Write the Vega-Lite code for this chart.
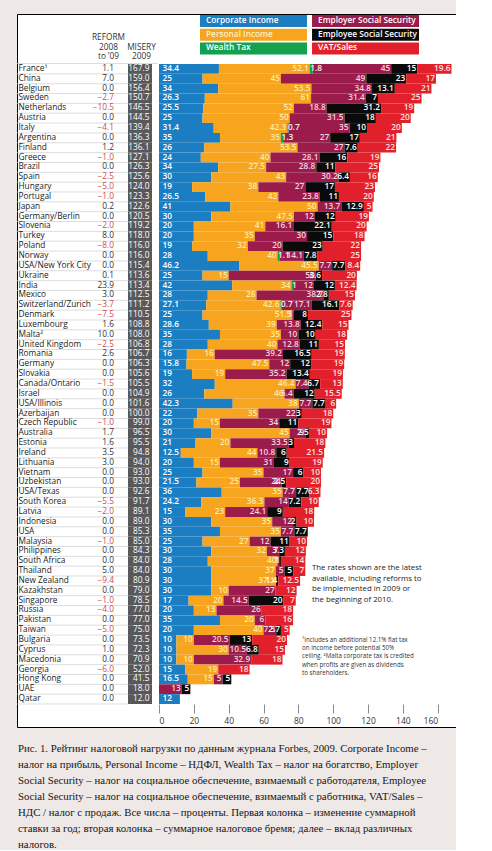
{
  "$schema": "https://vega.github.io/schema/vega-lite/v6.json",
  "width": 439,
  "height": 713,
  "padding": {"left": 16, "top": 14, "right": 0, "bottom": 0},
  "background": "#eee8e6",
  "config": {
    "font": "Open Sans",
    "view": {"fill": "white", "stroke": "#000000", "strokeWidth": 1, "strokeDash": [439, 713, 1152, 0]},
    "text": {"font": "Open Sans"}
  },
  "title": {
    "text": [
      "Рис. 1. Рейтинг налоговой нагрузки по данным журнала Forbes, 2009. Corporate Income –",
      "налог на прибыль, Personal Income – НДФЛ, Wealth Tax – налог на богатство, Employer",
      "Social Security – налог на социальное обеспечение, взимаемый с работодателя, Employee",
      "Social Security – налог на социальное обеспечение, взимаемый с работника, VAT/Sales –",
      "НДС / налог с продаж. Все числа – проценты. Первая колонка – изменение суммарной",
      "ставки за год; вторая колонка – суммарное налоговое бремя; далее – вклад различных",
      "налогов."
    ],
    "orient": "bottom",
    "anchor": "start",
    "frame": "group",
    "font": "Liberation Serif",
    "fontSize": 10.8,
    "fontWeight": "normal",
    "color": "#161616",
    "lineHeight": 16,
    "offset": 16,
    "dx": 1,
    "baseline": "top"
  },
  "datasets": {
    "countries": [
      {"country":"France¹","reform":1.1,"misery":167.9,"ci":34.4,"pi":52.1,"wt":1.8,"er":45,"ee":15,"vat":19.6},
      {"country":"China","reform":7.0,"misery":159.0,"ci":25,"pi":45,"wt":0,"er":49,"ee":23,"vat":17},
      {"country":"Belgium","reform":0,"misery":156.4,"ci":34,"pi":53.5,"wt":0,"er":34.8,"ee":13.1,"vat":21},
      {"country":"Sweden","reform":-2.7,"misery":150.7,"ci":26.3,"pi":61,"wt":0,"er":31.4,"ee":7,"vat":25},
      {"country":"Netherlands","reform":-10.5,"misery":146.5,"ci":25.5,"pi":52,"wt":0,"er":18.8,"ee":31.2,"vat":19},
      {"country":"Austria","reform":0,"misery":144.5,"ci":25,"pi":50,"wt":0,"er":31.5,"ee":18,"vat":20},
      {"country":"Italy","reform":-4.1,"misery":139.4,"ci":31.4,"pi":42.3,"wt":0.7,"er":35,"ee":10,"vat":20},
      {"country":"Argentina","reform":0,"misery":136.3,"ci":35,"pi":35,"wt":1.3,"er":27,"ee":17,"vat":21},
      {"country":"Finland","reform":1.2,"misery":136.1,"ci":26,"pi":53.5,"wt":0,"er":27,"ee":7.6,"vat":22},
      {"country":"Greece","reform":-1.0,"misery":127.1,"ci":24,"pi":40,"wt":0,"er":28.1,"ee":16,"vat":19},
      {"country":"Brazil","reform":0,"misery":126.3,"ci":34,"pi":27.5,"wt":0,"er":28.8,"ee":11,"vat":25},
      {"country":"Spain","reform":-2.5,"misery":125.6,"ci":30,"pi":43,"wt":0,"er":30.2,"ee":6.4,"vat":16},
      {"country":"Hungary","reform":-5.0,"misery":124.0,"ci":19,"pi":38,"wt":0,"er":27,"ee":17,"vat":23},
      {"country":"Portugal","reform":-1.0,"misery":123.3,"ci":26.5,"pi":42,"wt":0,"er":23.8,"ee":11,"vat":20},
      {"country":"Japan","reform":0.2,"misery":122.6,"ci":41,"pi":50,"wt":0,"er":13.7,"ee":12.9,"vat":5},
      {"country":"Germany/Berlin","reform":0,"misery":120.5,"ci":30,"pi":47.5,"wt":0,"er":12,"ee":12,"vat":19},
      {"country":"Slovenia","reform":-2.0,"misery":119.2,"ci":20,"pi":41,"wt":0,"er":16.1,"ee":22.1,"vat":20},
      {"country":"Turkey","reform":8.0,"misery":118.0,"ci":20,"pi":35,"wt":0,"er":30,"ee":15,"vat":18},
      {"country":"Poland","reform":-8.0,"misery":116.0,"ci":19,"pi":32,"wt":0,"er":20,"ee":23,"vat":22},
      {"country":"Norway","reform":0,"misery":116.0,"ci":28,"pi":40,"wt":1.1,"er":14.1,"ee":7.8,"vat":25},
      {"country":"USA/New York City","reform":0,"misery":115.4,"ci":46.2,"pi":45.5,"wt":0,"er":7.7,"ee":7.7,"vat":8.4},
      {"country":"Ukraine","reform":0.1,"misery":113.6,"ci":25,"pi":15,"wt":0,"er":50,"ee":3.6,"vat":20},
      {"country":"India","reform":23.9,"misery":113.4,"ci":42,"pi":34,"wt":1,"er":12,"ee":12,"vat":12.4},
      {"country":"Mexico","reform":3.0,"misery":112.5,"ci":28,"pi":28,"wt":0,"er":38.7,"ee":2.8,"vat":15},
      {"country":"Switzerland/Zurich","reform":-3.7,"misery":111.2,"ci":27.1,"pi":42.6,"wt":0.7,"er":17.1,"ee":16.1,"vat":7.6},
      {"country":"Denmark","reform":-7.5,"misery":110.5,"ci":25,"pi":51.5,"wt":0,"er":1,"ee":8,"vat":25},
      {"country":"Luxembourg","reform":1.6,"misery":108.8,"ci":28.6,"pi":39,"wt":0,"er":13.8,"ee":12.4,"vat":15},
      {"country":"Malta²","reform":10.0,"misery":108.0,"ci":35,"pi":35,"wt":0,"er":10,"ee":10,"vat":18},
      {"country":"United Kingdom","reform":-2.5,"misery":106.8,"ci":28,"pi":40,"wt":0,"er":12.8,"ee":11,"vat":15},
      {"country":"Romania","reform":2.6,"misery":106.7,"ci":16,"pi":16,"wt":0,"er":39.2,"ee":16.5,"vat":19},
      {"country":"Germany","reform":0,"misery":106.3,"ci":15.8,"pi":47.5,"wt":0,"er":12,"ee":12,"vat":19},
      {"country":"Slovakia","reform":0,"misery":105.6,"ci":19,"pi":19,"wt":0,"er":35.2,"ee":13.4,"vat":19},
      {"country":"Canada/Ontario","reform":-1.5,"misery":105.5,"ci":32,"pi":46.4,"wt":0,"er":7.4,"ee":6.7,"vat":13},
      {"country":"Israel","reform":0,"misery":104.9,"ci":26,"pi":46,"wt":0,"er":5.4,"ee":12,"vat":15.5},
      {"country":"USA/Illinois","reform":0,"misery":101.6,"ci":42.3,"pi":38,"wt":0,"er":7.7,"ee":7.7,"vat":6},
      {"country":"Azerbaijan","reform":0,"misery":100.0,"ci":22,"pi":35,"wt":0,"er":22,"ee":3,"vat":18},
      {"country":"Czech Republic","reform":-1.0,"misery":99.0,"ci":20,"pi":15,"wt":0,"er":34,"ee":11,"vat":19},
      {"country":"Australia","reform":1.7,"misery":96.5,"ci":30,"pi":45,"wt":0,"er":9,"ee":2.5,"vat":10},
      {"country":"Estonia","reform":1.6,"misery":95.5,"ci":21,"pi":20,"wt":0,"er":33.5,"ee":3,"vat":18},
      {"country":"Ireland","reform":3.5,"misery":94.8,"ci":12.5,"pi":44,"wt":0,"er":10.8,"ee":6,"vat":21.5},
      {"country":"Lithuania","reform":3.0,"misery":94.0,"ci":20,"pi":15,"wt":0,"er":31,"ee":9,"vat":19},
      {"country":"Vietnam","reform":0,"misery":93.0,"ci":25,"pi":35,"wt":0,"er":17,"ee":6,"vat":10},
      {"country":"Uzbekistan","reform":0,"misery":93.0,"ci":21.5,"pi":25,"wt":0,"er":24,"ee":2.5,"vat":20},
      {"country":"USA/Texas","reform":0,"misery":92.6,"ci":36,"pi":35,"wt":0,"er":7.7,"ee":7.7,"vat":6.3},
      {"country":"South Korea","reform":-5.5,"misery":91.7,"ci":24.2,"pi":36.3,"wt":0,"er":14,"ee":7.2,"vat":10},
      {"country":"Latvia","reform":-2.0,"misery":89.1,"ci":15,"pi":23,"wt":0,"er":24.1,"ee":9,"vat":18},
      {"country":"Indonesia","reform":0,"misery":89.0,"ci":30,"pi":35,"wt":0,"er":12,"ee":2,"vat":10},
      {"country":"USA","reform":0,"misery":85.3,"ci":35,"pi":35,"wt":0,"er":7.7,"ee":7.7,"vat":0},
      {"country":"Malaysia","reform":-1.0,"misery":85.0,"ci":25,"pi":27,"wt":0,"er":12,"ee":11,"vat":10},
      {"country":"Philippines","reform":0,"misery":84.3,"ci":30,"pi":32,"wt":0,"er":7,"ee":3.3,"vat":12},
      {"country":"South Africa","reform":0,"misery":84.0,"ci":28,"pi":40,"wt":0,"er":1,"ee":1,"vat":14},
      {"country":"Thailand","reform":5.0,"misery":84.0,"ci":30,"pi":37,"wt":0,"er":5,"ee":5,"vat":7},
      {"country":"New Zealand","reform":-9.4,"misery":80.9,"ci":30,"pi":37.1,"wt":0,"er":0,"ee":1.4,"vat":12.5},
      {"country":"Kazakhstan","reform":0,"misery":79.0,"ci":30,"pi":10,"wt":0,"er":27,"ee":0,"vat":12},
      {"country":"Singapore","reform":-1.0,"misery":78.5,"ci":17,"pi":20,"wt":0,"er":14.5,"ee":20,"vat":7},
      {"country":"Russia","reform":-4.0,"misery":77.0,"ci":20,"pi":13,"wt":0,"er":26,"ee":0,"vat":18},
      {"country":"Pakistan","reform":0,"misery":77.0,"ci":35,"pi":20,"wt":0,"er":6,"ee":0,"vat":16},
      {"country":"Taiwan","reform":-5.0,"misery":75.0,"ci":20,"pi":40,"wt":0,"er":7.3,"ee":2.7,"vat":5},
      {"country":"Bulgaria","reform":0,"misery":73.5,"ci":10,"pi":10,"wt":0,"er":20.5,"ee":13,"vat":20},
      {"country":"Cyprus","reform":1.0,"misery":72.3,"ci":10,"pi":30,"wt":0,"er":10.5,"ee":6.8,"vat":15},
      {"country":"Macedonia","reform":0,"misery":70.9,"ci":10,"pi":10,"wt":0,"er":32.9,"ee":0,"vat":18},
      {"country":"Georgia","reform":-6.0,"misery":52.0,"ci":15,"pi":19,"wt":0,"er":0,"ee":0,"vat":18},
      {"country":"Hong Kong","reform":0,"misery":41.5,"ci":16.5,"pi":15,"wt":0,"er":5,"ee":5,"vat":0},
      {"country":"UAE","reform":0,"misery":18.0,"ci":0,"pi":0,"wt":0,"er":13,"ee":5,"vat":0},
      {"country":"Qatar","reform":0,"misery":12.0,"ci":12,"pi":0,"wt":0,"er":0,"ee":0,"vat":0}
    ],
    "legend": [
      {"key":"ci","label":"Corporate Income","col":1,"row":1},
      {"key":"pi","label":"Personal Income","col":1,"row":2},
      {"key":"wt","label":"Wealth Tax","col":1,"row":3},
      {"key":"er","label":"Employer Social Security","col":2,"row":1},
      {"key":"ee","label":"Employee Social Security","col":2,"row":2},
      {"key":"vat","label":"VAT/Sales","col":2,"row":3}
    ]
  },
  "resolve": {"scale": {"x": "independent", "y": "independent"}},
  "layer": [
    {
      "data": {"name": "countries"},
      "encoding": {
        "y": {
          "field": "country", "type": "nominal", "sort": null, "axis": null,
          "scale": {
            "domain": ["France¹","China","Belgium","Sweden","Netherlands","Austria","Italy","Argentina","Finland","Greece","Brazil","Spain","Hungary","Portugal","Japan","Germany/Berlin","Slovenia","Turkey","Poland","Norway","USA/New York City","Ukraine","India","Mexico","Switzerland/Zurich","Denmark","Luxembourg","Malta²","United Kingdom","Romania","Germany","Slovakia","Canada/Ontario","Israel","USA/Illinois","Azerbaijan","Czech Republic","Australia","Estonia","Ireland","Lithuania","Vietnam","Uzbekistan","USA/Texas","South Korea","Latvia","Indonesia","USA","Malaysia","Philippines","South Africa","Thailand","New Zealand","Kazakhstan","Singapore","Russia","Pakistan","Taiwan","Bulgaria","Cyprus","Macedonia","Georgia","Hong Kong","UAE","Qatar"],
            "range": [50, 690], "paddingInner": 0, "paddingOuter": 0
          }
        }
      },
      "layer": [
        {
          "mark": {"type": "rule", "color": "#cfcfcf", "strokeWidth": 0.7, "yOffset": 4.92},
          "encoding": {"x": {"value": 0}, "x2": {"value": 111}}
        },
        {
          "transform": [{"filter": "datum.country === 'France¹'"}],
          "mark": {"type": "rule", "color": "#cfcfcf", "strokeWidth": 0.7, "yOffset": -5.4},
          "encoding": {"x": {"value": 0}, "x2": {"value": 141}}
        },
        {
          "mark": {"type": "text", "align": "left", "baseline": "middle", "fontSize": 8.3, "color": "#222222"},
          "encoding": {"x": {"value": 1.5}, "text": {"field": "country", "type": "nominal"}}
        },
        {
          "mark": {"type": "text", "align": "right", "baseline": "middle", "fontSize": 8.3},
          "encoding": {
            "x": {"value": 97},
            "text": {"field": "reform", "type": "quantitative", "format": ".1f"},
            "color": {"condition": {"test": "datum.reform < 0", "value": "#c8504f"}, "value": "#333333"}
          }
        },
        {
          "mark": {"type": "rect", "color": "#58585a"},
          "encoding": {"x": {"value": 111}, "x2": {"value": 135}}
        },
        {
          "mark": {"type": "text", "align": "right", "baseline": "middle", "fontSize": 8.3, "color": "#ffffff"},
          "encoding": {"x": {"value": 132.5}, "text": {"field": "misery", "type": "quantitative", "format": ".1f"}}
        },
        {
          "transform": [
            {"fold": ["ci", "pi", "wt", "er", "ee", "vat"], "as": ["key", "value"]},
            {"window": [{"op": "row_number", "as": "rank"}], "groupby": ["country"]},
            {"stack": "value", "groupby": ["country"], "sort": [{"field": "rank", "order": "ascending"}], "as": ["x0", "x1"]},
            {"filter": "datum.value > 0"}
          ],
          "layer": [
            {
              "mark": {"type": "bar"},
              "encoding": {
                "x": {
                  "field": "x0", "type": "quantitative",
                  "scale": {"domain": [0, 160], "range": [142, 420.7], "nice": false, "zero": false},
                  "axis": {"values": [0, 20, 40, 60, 80, 100, 120, 140, 160], "orient": "bottom", "offset": -23, "domain": false, "grid": false, "ticks": true, "tickColor": "#8a8a8a", "tickSize": 9, "tickWidth": 1, "labelFontSize": 8.5, "labelColor": "#333333", "labelPadding": 3, "labelFont": "Open Sans", "title": null}
                },
                "x2": {"field": "x1"},
                "color": {
                  "field": "key", "type": "nominal", "legend": null,
                  "scale": {"domain": ["ci", "pi", "wt", "er", "ee", "vat"], "range": ["#1b7dc2", "#f7a51f", "#13a04f", "#9b1c4a", "#0a0a0a", "#e2202b"]}
                }
              }
            },
            {
              "transform": [{"filter": "datum.key === 'ci'"}],
              "mark": {"type": "text", "align": "left", "baseline": "middle", "dx": 3.5, "fontSize": 8.3, "fontWeight": 600, "color": "#ffffff"},
              "encoding": {
                "x": {"field": "x0", "type": "quantitative", "title": null, "scale": {"domain": [0, 160], "range": [142, 420.7], "nice": false, "zero": false}},
                "text": {"field": "value", "type": "nominal"}
              }
            },
            {
              "transform": [{"filter": "datum.key === 'wt'"}],
              "mark": {"type": "text", "align": "left", "baseline": "middle", "dx": 0.5, "fontSize": 8.3, "fontWeight": 600, "color": "#eef6ee"},
              "encoding": {
                "x": {"field": "x0", "type": "quantitative", "title": null, "scale": {"domain": [0, 160], "range": [142, 420.7], "nice": false, "zero": false}},
                "text": {"field": "value", "type": "nominal"}
              }
            },
            {
              "transform": [{"filter": "datum.key !== 'ci' && datum.key !== 'wt'"}],
              "mark": {"type": "text", "align": "right", "baseline": "middle", "dx": -1, "fontSize": 8.3, "fontWeight": 600},
              "encoding": {
                "x": {"field": "x1", "type": "quantitative", "title": null, "scale": {"domain": [0, 160], "range": [142, 420.7], "nice": false, "zero": false}},
                "text": {"field": "value", "type": "nominal"},
                "color": {
                  "condition": [
                    {"test": "datum.key === 'pi'", "value": "#fde9a8"},
                    {"test": "datum.key === 'er'", "value": "#f6d3df"},
                    {"test": "datum.key === 'vat'", "value": "#fde0e0"}
                  ],
                  "value": "#ffffff"
                }
              }
            }
          ]
        },
        {
          "transform": [{"filter": "datum.country === 'South Africa'"}],
          "mark": {"type": "text", "align": "left", "baseline": "top", "dy": 3, "fontSize": 7.8, "lineHeight": 10.5, "color": "#222222",
            "text": ["The rates shown are the latest", "available, including reforms to", "be implemented in 2009 or", "the beginning of 2010."]},
          "encoding": {"x": {"datum": 87.8, "type": "quantitative", "scale": {"domain": [0, 160], "range": [142, 420.7], "nice": false, "zero": false}}}
        },
        {
          "transform": [{"filter": "datum.country === 'Bulgaria'"}],
          "mark": {"type": "text", "align": "left", "baseline": "top", "dy": -3, "fontSize": 6.2, "lineHeight": 8.2, "color": "#333333",
            "text": ["¹Includes an additional 12.1% flat tax", "on income before potential 50%", "ceiling. ²Malta corporate tax is credited", "when profits are given as dividends", "to shareholders."]},
          "encoding": {"x": {"datum": 82.1, "type": "quantitative", "scale": {"domain": [0, 160], "range": [142, 420.7], "nice": false, "zero": false}}}
        }
      ]
    },
    {
      "data": {"name": "legend"},
      "encoding": {
        "x": {"field": "col", "type": "ordinal", "axis": null, "scale": {"range": [183, 402], "paddingInner": 0.045, "paddingOuter": 0}},
        "y": {"field": "row", "type": "ordinal", "axis": null, "scale": {"range": [1, 40.5], "paddingInner": 0.12, "paddingOuter": 0}}
      },
      "layer": [
        {
          "mark": {"type": "rect"},
          "encoding": {
            "color": {
              "field": "key", "type": "nominal", "legend": null,
              "scale": {"domain": ["ci", "pi", "wt", "er", "ee", "vat"], "range": ["#1b7dc2", "#f7a51f", "#13a04f", "#9b1c4a", "#0a0a0a", "#e2202b"]}
            }
          }
        },
        {
          "mark": {"type": "text", "align": "left", "baseline": "middle", "dx": 6, "fontSize": 8.3, "fontWeight": 600},
          "encoding": {
            "x": {"field": "col", "type": "ordinal", "bandPosition": 0, "axis": null},
            "text": {"field": "label", "type": "nominal"},
            "color": {"condition": {"test": "datum.key === 'pi'", "value": "#fdf0c4"}, "value": "#ffffff"}
          }
        }
      ]
    },
    {
      "data": {"values": [{}]},
      "layer": [
        {
          "mark": {"type": "text", "align": "center", "baseline": "top", "fontSize": 8.3, "lineHeight": 9.4, "color": "#333333", "text": ["REFORM", "2008", "to ’09"]},
          "encoding": {"x": {"value": 91.5}, "y": {"value": 19.4}}
        },
        {
          "mark": {"type": "text", "align": "center", "baseline": "top", "fontSize": 8.3, "lineHeight": 9.4, "color": "#333333", "text": ["MISERY", "2009"]},
          "encoding": {"x": {"value": 124.5}, "y": {"value": 28.8}}
        }
      ]
    }
  ]
}
